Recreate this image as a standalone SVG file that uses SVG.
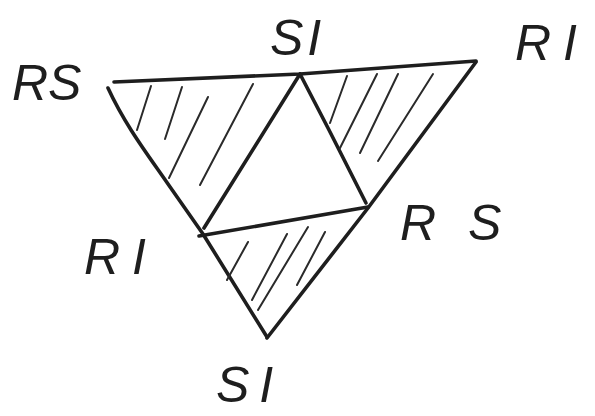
<svg xmlns="http://www.w3.org/2000/svg" width="595" height="416" viewBox="0 0 595 416">
<style>
.edge{fill:none;stroke:#1e1e1e;stroke-width:3.6;stroke-linecap:round;stroke-linejoin:round}
.hatch{fill:none;stroke:#2a2a2a;stroke-width:2;stroke-linecap:round}
.lbl{font-family:"Liberation Sans",Arial,sans-serif;font-size:50px;font-style:italic;fill:#1e1e1e}
</style>
<rect width="595" height="416" fill="#ffffff"/>
<g id="connectors">
<path class="edge" d="M114,82 L300,74 L476,61"/>
<path class="edge" d="M108,88 C125,125 148,155 168,184 L203,234 L267,337"/>
<path class="edge" d="M476,62 L368,208 L267,338"/>
<path class="edge" d="M300,74 L204,228"/>
<path class="edge" d="M300,74 L328,128 L366,203"/>
<path class="edge" d="M199,236 Q282,222 368,207"/>
</g>
<g id="hatch-left">
<path class="hatch" d="M151,86 L137,130"/>
<path class="hatch" d="M182,87 L165,139"/>
<path class="hatch" d="M208,97 L169,178"/>
<path class="hatch" d="M253,84 L200,185"/>
</g>
<g id="hatch-right">
<path class="hatch" d="M347,76 L330,123"/>
<path class="hatch" d="M377,74 L340,148"/>
<path class="hatch" d="M398,74 L360,153"/>
<path class="hatch" d="M433,74 L378,161"/>
</g>
<g id="hatch-bottom">
<path class="hatch" d="M248,242 L227,280"/>
<path class="hatch" d="M287,234 L252,300"/>
<path class="hatch" d="M308,227 L258,310"/>
<path class="hatch" d="M325,232 L297,285"/>
</g>
<g id="label-rs-top"><text class="lbl" x="12" y="100">RS</text></g>
<g id="label-si-top"><text class="lbl" x="270" y="55" letter-spacing="4">SI</text></g>
<g id="label-ri-top"><text class="lbl" x="515" y="60" letter-spacing="12">RI</text></g>
<g id="label-rs-right"><text class="lbl" x="400" y="240" letter-spacing="32">RS</text></g>
<g id="label-ri-left"><text class="lbl" x="84" y="274" letter-spacing="12">RI</text></g>
<g id="label-si-bottom"><text class="lbl" x="216" y="402" letter-spacing="10">SI</text></g>
</svg>
